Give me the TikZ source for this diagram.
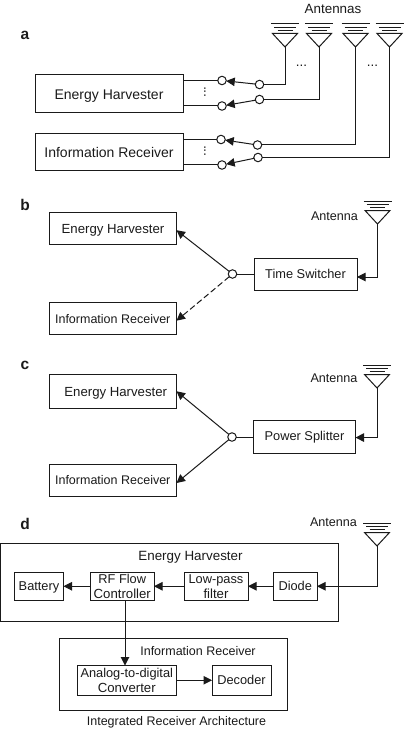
\documentclass[tikz,border=0pt]{standalone}
\usepackage{fontspec}
\setmainfont{Liberation Sans}
\usetikzlibrary{arrows.meta}
\definecolor{ink}{HTML}{1A1A1A}
\newcommand{\dn}{\rule{0pt}{13pt}}
\tikzset{
  conn/.style={draw=ink,line width=1pt},
  arr/.style={conn,-{Triangle[length=8.5pt,width=8.5pt]}},
  boxnode/.style={draw=ink,line width=1pt,inner sep=0pt,outer sep=0pt,align=center,text=ink,font=\fontsize{13.2}{15}\selectfont},
  sw/.style={circle,draw=ink,line width=1pt,fill=white,inner sep=0pt,outer sep=0pt,minimum size=8.5pt},
  lab/.style={text=ink,inner sep=0pt,font=\fontsize{13.4}{15}\selectfont},
  smalllab/.style={text=ink,inner sep=0pt,font=\fontsize{12.6}{15}\selectfont},
  panel/.style={text=ink,inner sep=0pt,font=\bfseries\fontsize{15.5}{16}\selectfont},
}
\newcommand{\bx}[6]{\node[boxnode,minimum width={(#4-#2)*1pt},minimum height={(#5-#3)*1pt}] (#1) at ({(#2+#4)/2},{(#3+#5)/2}) {#6};}
\newcommand{\ant}[3]{%
  \draw[conn] (#2-14,#3)--(#2+14,#3);
  \draw[conn] (#2-11,#3+3.3)--(#2+11,#3+3.3);
  \draw[conn] (#2-7.5,#3+6.3)--(#2+7.5,#3+6.3);
  \draw[conn,line join=miter] (#2-12.5,#3+9.5)--(#2+12.5,#3+9.5)--(#2,#3+23)--cycle;
  \coordinate (#1) at (#2,#3+23);}
\begin{document}
\begin{tikzpicture}[x=1pt,y=-1pt]
\useasboundingbox (0,0) rectangle (405,730);
% panel a
\node[panel] (pa) at (25,35) {a};
\node[lab] (lA) at (333,9) {Antennas};
\ant{a1}{285}{24}
\ant{a2}{319}{24}
\ant{a3}{355.5}{24}
\ant{a4}{389.5}{24}
\bx{ehA}{35}{75}{183}{113}{\fontsize{14}{15}\selectfont\dn Energy Harvester}
\bx{irA}{35}{134}{183}{171}{\fontsize{14}{15}\selectfont Information Receiver}
\node[sw] (c1) at (222,80.5) {};
\node[sw] (c2) at (222,106) {};
\node[sw] (c3) at (221,139.5) {};
\node[sw] (c4) at (222,165) {};
\node[sw] (s1) at (259.5,84.5) {};
\node[sw] (s2) at (259.5,99.5) {};
\node[sw] (s3) at (257.5,145) {};
\node[sw] (s4) at (258,157.5) {};
\draw[conn] (ehA.east |- c1)--(c1);
\draw[conn] (ehA.east |- c2)--(c2);
\draw[conn] (irA.east |- c3)--(c3);
\draw[conn] (irA.east |- c4)--(c4);
\draw[arr] (s1)--(c1);
\draw[arr] (s2)--(c2);
\draw[arr] (s3)--(c3);
\draw[arr] (s4)--(c4);
\draw[conn] (a1)|-(s1);
\draw[conn] (a2)|-(s2);
\draw[conn] (a3)|-(s3);
\draw[conn] (a4)|-(s4);
\node[lab] (d1) at (301.5,66) {...};
\node[lab] (d2) at (372.5,66) {...};
\node[lab,rotate=90] (d3) at (205,92) {...};
\node[lab,rotate=90] (d4) at (205,151) {...};
% panel b
\node[panel] (pb) at (25,205) {b};
\ant{ab}{377.5}{201}
\node[smalllab] (lb) at (334.5,216) {Antenna};
\bx{ehB}{49.5}{212.5}{176.5}{244.7}{\dn Energy Harvester}
\bx{irB}{49}{302.7}{176.5}{334.7}{\fontsize{12.5}{15}\selectfont Information Receiver}
\bx{ts}{254}{258}{357}{290}{\fontsize{12.8}{15}\selectfont Time Switcher}
\node[sw] (cb) at (232.5,274) {};
\draw[conn] (ts.west |- cb)--(cb);
\draw[arr] (cb)--([yshift=-1.6pt]ehB.east);
\draw[arr,dash pattern=on 6pt off 3pt] (cb)--([yshift=-2pt]irB.east);
\draw[arr] (ab)|-([yshift=-3pt]ts.east);
% panel c
\node[panel] (pc) at (25,365) {c};
\ant{ac}{377}{365}
\node[smalllab] (lc) at (334,378.5) {Antenna};
\bx{ehC}{49}{374.5}{176.5}{408}{\hspace{6pt}\dn Energy Harvester}
\bx{irC}{49}{464.5}{176.5}{496.5}{\fontsize{12.5}{15}\selectfont Information Receiver}
\bx{ps}{253.5}{420.5}{355.5}{453}{\fontsize{12.8}{15}\selectfont Power Splitter}
\node[sw] (cc) at (232,437) {};
\draw[conn] (ps.west |- cc)--(cc);
\draw[arr] (cc)--(ehC.east);
\draw[arr] (cc)--([yshift=-2.5pt]irC.east);
\draw[arr] (ac)|-([yshift=-0.8pt]ps.east);
% panel d
\node[panel] (pd) at (25,524) {d};
\ant{ad}{377}{523}
\node[smalllab] (ld) at (333.5,522.5) {Antenna};
\bx{eh}{0.5}{543}{338.5}{621}{}
\node[lab] (teh) at (190.5,557) {Energy Harvester};
\bx{bat}{14.5}{572}{63.5}{600.5}{\fontsize{12.8}{15}\selectfont\rule{0pt}{12pt}Battery}
\bx{rf}{90.5}{572}{154}{600.5}{\fontsize{12.8}{15}\selectfont RF Flow\\Controller}
\bx{lpf}{184}{572}{248}{600.5}{\fontsize{12.8}{15}\selectfont Low-pass\\filter}
\bx{dio}{273.5}{572}{317}{600.5}{\fontsize{12.8}{15}\selectfont Diode}
\draw[arr] (ad)|-(dio.east);
\draw[arr] (dio)--(lpf);
\draw[arr] (lpf)--(rf);
\draw[arr] (rf)--(bat);
\bx{ir}{59.5}{638}{287.5}{710}{}
\node[smalllab,font=\fontsize{12.5}{15}\selectfont] (tir) at (198,651.5) {Information Receiver};
\bx{adc}{77.5}{665.5}{176}{695}{\fontsize{12.8}{15}\selectfont Analog-to-digital\\Converter}
\bx{dec}{212}{665.5}{271}{695}{\fontsize{12.8}{15}\selectfont Decoder}
\draw[arr] (rf.south -| 125,0)--(adc.north -| 125,0);
\draw[arr] (adc)--(dec);
\node[smalllab,font=\fontsize{12.5}{15}\selectfont] (cap) at (176.5,722.5) {Integrated Receiver Architecture};
\end{tikzpicture}
\end{document}
